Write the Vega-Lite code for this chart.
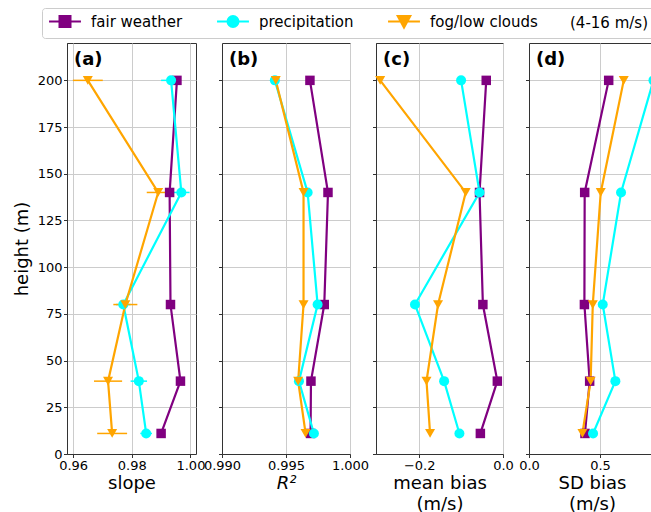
{
  "$schema": "https://vega.github.io/schema/vega-lite/v6.json",
  "padding": {"left": 12, "top": 7, "right": 0, "bottom": 0},
  "bounds": "flush",
  "spacing": 26,
  "data": {
    "values": [
      {"group": "fair weather", "height": 200, "slope": 0.9954, "slope_err": 0.0012, "r2": 0.99687, "mean_bias": -0.040, "sd_bias": 0.561},
      {"group": "fair weather", "height": 140, "slope": 0.9929, "slope_err": 0.0012, "r2": 0.99828, "mean_bias": -0.056, "sd_bias": 0.392},
      {"group": "fair weather", "height": 80, "slope": 0.9932, "slope_err": 0.0012, "r2": 0.99799, "mean_bias": -0.048, "sd_bias": 0.390},
      {"group": "fair weather", "height": 39, "slope": 0.9966, "slope_err": 0.0012, "r2": 0.99695, "mean_bias": -0.0135, "sd_bias": 0.427},
      {"group": "fair weather", "height": 11, "slope": 0.9900, "slope_err": 0.0012, "r2": 0.99692, "mean_bias": -0.054, "sd_bias": 0.394},
      {"group": "precipitation", "height": 200, "slope": 0.9934, "slope_err": 0.0034, "r2": 0.99413, "mean_bias": -0.100, "sd_bias": 0.876},
      {"group": "precipitation", "height": 140, "slope": 0.9969, "slope_err": 0.0028, "r2": 0.99669, "mean_bias": -0.056, "sd_bias": 0.648},
      {"group": "precipitation", "height": 80, "slope": 0.9771, "slope_err": 0.0025, "r2": 0.99747, "mean_bias": -0.210, "sd_bias": 0.519},
      {"group": "precipitation", "height": 39, "slope": 0.9824, "slope_err": 0.0028, "r2": 0.99601, "mean_bias": -0.1405, "sd_bias": 0.608},
      {"group": "precipitation", "height": 11, "slope": 0.9849, "slope_err": 0.0020, "r2": 0.99718, "mean_bias": -0.104, "sd_bias": 0.451},
      {"group": "fog/low clouds", "height": 200, "slope": 0.9650, "slope_err": 0.0051, "r2": 0.99420, "mean_bias": -0.293, "sd_bias": 0.667},
      {"group": "fog/low clouds", "height": 140, "slope": 0.9890, "slope_err": 0.0039, "r2": 0.99637, "mean_bias": -0.089, "sd_bias": 0.505},
      {"group": "fog/low clouds", "height": 80, "slope": 0.9778, "slope_err": 0.0041, "r2": 0.99637, "mean_bias": -0.155, "sd_bias": 0.449},
      {"group": "fog/low clouds", "height": 39, "slope": 0.9719, "slope_err": 0.0048, "r2": 0.99595, "mean_bias": -0.1825, "sd_bias": 0.434},
      {"group": "fog/low clouds", "height": 11, "slope": 0.9733, "slope_err": 0.0051, "r2": 0.99653, "mean_bias": -0.174, "sd_bias": 0.376}
    ]
  },
  "hconcat": [
    {
      "width": 129, "height": 411,
      "title": {"text": "(a)", "anchor": "start", "frame": "group", "offset": 0, "dy": 40, "dx": 7, "baseline": "alphabetic", "fontSize": 18, "fontWeight": "bold"},
      "encoding": {
        "y": {"field": "height", "type": "quantitative", "scale": {"domain": [0, 220], "nice": false, "zero": false},
              "axis": {"values": [0, 25, 50, 75, 100, 125, 150, 175, 200], "title": "height (m)", "titlePadding": 6}},
        "x": {"field": "slope", "type": "quantitative", "scale": {"domain": [0.9579, 1.0019], "nice": false, "zero": false},
              "axis": {"values": [0.96, 0.98, 1.0], "format": ".2f", "title": "slope"}}
      },
      "layer": [
        {"mark": {"type": "point", "filled": true, "opacity": 0},
         "encoding": {
           "shape": {"field": "group", "type": "nominal", "title": "(4-16 m/s)",
             "scale": {"domain": ["fair weather", "precipitation", "fog/low clouds"],
                       "range": ["M-2.9,0H2.9M-1,-1H1V1H-1Z", "M-2.9,0H2.9M1,0A1,1,0,1,1,-1,0A1,1,0,1,1,1,0Z", "M-2.9,0H2.9M-1.15,-1H1.15L0,1.1Z"]}},
           "fill": {"field": "group", "type": "nominal", "title": "(4-16 m/s)",
             "scale": {"domain": ["fair weather", "precipitation", "fog/low clouds"], "range": ["#800080", "#00ffff", "#ffa500"]}},
           "stroke": {"field": "group", "type": "nominal", "title": "(4-16 m/s)",
             "scale": {"domain": ["fair weather", "precipitation", "fog/low clouds"], "range": ["#800080", "#00ffff", "#ffa500"]}}
         }},
        {"mark": {"type": "errorbar", "thickness": 1.5},
         "encoding": {
           "xError": {"field": "slope_err"},
           "color": {"field": "group", "type": "nominal", "legend": null, "scale": {"domain": ["fog/low clouds", "fair weather", "precipitation"], "range": ["#ffa500", "#800080", "#00ffff"]}}
         }},
        {"mark": {"type": "line", "strokeWidth": 2.2},
         "encoding": {
           "order": {"field": "height", "type": "quantitative"},
           "color": {"field": "group", "type": "nominal", "legend": null}
         }},
        {"transform": [{"filter": "datum.group === 'fair weather'"}],
         "mark": {"type": "point", "filled": true, "opacity": 1, "size": 90, "shape": "square", "color": "#800080"}},
        {"transform": [{"filter": "datum.group === 'precipitation'"}],
         "mark": {"type": "point", "filled": true, "opacity": 1, "size": 100, "shape": "circle", "color": "#00ffff"}},
        {"transform": [{"filter": "datum.group === 'fog/low clouds'"}],
         "mark": {"type": "point", "filled": true, "opacity": 1, "size": 100, "shape": "triangle-down", "color": "#ffa500"}}
      ]
    },
    {
      "width": 128, "height": 411,
      "title": {"text": "(b)", "anchor": "start", "frame": "group", "offset": 0, "dy": 40, "dx": 7, "baseline": "alphabetic", "fontSize": 18, "fontWeight": "bold"},
      "encoding": {
        "y": {"field": "height", "type": "quantitative", "scale": {"domain": [0, 220], "nice": false, "zero": false},
              "axis": {"values": [0, 25, 50, 75, 100, 125, 150, 175, 200], "labels": false, "title": null}},
        "x": {"field": "r2", "type": "quantitative", "scale": {"domain": [0.99, 1.0], "nice": false, "zero": false},
              "axis": {"values": [0.99, 0.995, 1.0], "format": ".3f", "title": "R²", "titleFontStyle": "italic"}}
      },
      "layer": [
        {"mark": {"type": "line", "strokeWidth": 2.2},
         "encoding": {
           "order": {"field": "height", "type": "quantitative"},
           "color": {"field": "group", "type": "nominal", "legend": null}
         }},
        {"transform": [{"filter": "datum.group === 'fair weather'"}],
         "mark": {"type": "point", "filled": true, "opacity": 1, "size": 90, "shape": "square", "color": "#800080"}},
        {"transform": [{"filter": "datum.group === 'precipitation'"}],
         "mark": {"type": "point", "filled": true, "opacity": 1, "size": 100, "shape": "circle", "color": "#00ffff"}},
        {"transform": [{"filter": "datum.group === 'fog/low clouds'"}],
         "mark": {"type": "point", "filled": true, "opacity": 1, "size": 100, "shape": "triangle-down", "color": "#ffa500"}}
      ]
    },
    {
      "width": 127, "height": 411,
      "title": {"text": "(c)", "anchor": "start", "frame": "group", "offset": 0, "dy": 40, "dx": 7, "baseline": "alphabetic", "fontSize": 18, "fontWeight": "bold"},
      "encoding": {
        "y": {"field": "height", "type": "quantitative", "scale": {"domain": [0, 220], "nice": false, "zero": false},
              "axis": {"values": [0, 25, 50, 75, 100, 125, 150, 175, 200], "labels": false, "title": null}},
        "x": {"field": "mean_bias", "type": "quantitative", "scale": {"domain": [-0.303, 0.0], "nice": false, "zero": false},
              "axis": {"values": [-0.2, 0.0], "format": ".1f", "title": ["mean bias", "(m/s)"]}}
      },
      "layer": [
        {"mark": {"type": "line", "strokeWidth": 2.2},
         "encoding": {
           "order": {"field": "height", "type": "quantitative"},
           "color": {"field": "group", "type": "nominal", "legend": null}
         }},
        {"transform": [{"filter": "datum.group === 'fair weather'"}],
         "mark": {"type": "point", "filled": true, "opacity": 1, "size": 90, "shape": "square", "color": "#800080"}},
        {"transform": [{"filter": "datum.group === 'precipitation'"}],
         "mark": {"type": "point", "filled": true, "opacity": 1, "size": 100, "shape": "circle", "color": "#00ffff"}},
        {"transform": [{"filter": "datum.group === 'fog/low clouds'"}],
         "mark": {"type": "point", "filled": true, "opacity": 1, "size": 100, "shape": "triangle-down", "color": "#ffa500"}}
      ]
    },
    {
      "width": 126, "height": 411,
      "title": {"text": "(d)", "anchor": "start", "frame": "group", "offset": 0, "dy": 40, "dx": 7, "baseline": "alphabetic", "fontSize": 18, "fontWeight": "bold"},
      "encoding": {
        "y": {"field": "height", "type": "quantitative", "scale": {"domain": [0, 220], "nice": false, "zero": false},
              "axis": {"values": [0, 25, 50, 75, 100, 125, 150, 175, 200], "labels": false, "title": null}},
        "x": {"field": "sd_bias", "type": "quantitative", "scale": {"domain": [0, 0.887], "nice": false, "zero": false},
              "axis": {"values": [0, 0.5], "format": ".1f", "title": ["SD bias", "(m/s)"]}}
      },
      "layer": [
        {"mark": {"type": "line", "strokeWidth": 2.2},
         "encoding": {
           "order": {"field": "height", "type": "quantitative"},
           "color": {"field": "group", "type": "nominal", "legend": null}
         }},
        {"transform": [{"filter": "datum.group === 'fair weather'"}],
         "mark": {"type": "point", "filled": true, "opacity": 1, "size": 90, "shape": "square", "color": "#800080"}},
        {"transform": [{"filter": "datum.group === 'precipitation'"}],
         "mark": {"type": "point", "filled": true, "opacity": 1, "size": 100, "shape": "circle", "color": "#00ffff"}},
        {"transform": [{"filter": "datum.group === 'fog/low clouds'"}],
         "mark": {"type": "point", "filled": true, "opacity": 1, "size": 100, "shape": "triangle-down", "color": "#ffa500"}}
      ]
    }
  ],
  "config": {
    "font": "DejaVu Sans",
    "view": {"stroke": "#333333", "strokeWidth": 1},
    "title": {"color": "#000000"},
    "axis": {
      "domainColor": "#333333", "tickColor": "#333333", "labelColor": "#000000", "titleColor": "#000000",
      "labelFontSize": 13, "titleFontSize": 18, "titleFontWeight": "normal",
      "gridColor": "#cccccc", "gridWidth": 1, "tickSize": 3.5, "labelPadding": 1.5, "labelFlush": false, "labelOverlap": false,
      "titlePadding": 2, "titleLineHeight": 21
    },
    "legend": {
      "orient": "none", "legendX": -25, "legendY": -35,
      "direction": "horizontal", "gridAlign": "none",
      "titleOrient": "right", "titleFontWeight": "normal", "titleFontSize": 15, "titleColor": "#000000", "titlePadding": 32,
      "labelFontSize": 15, "labelColor": "#000000",
      "symbolSize": 121, "symbolStrokeWidth": 2, "symbolOpacity": 1,
      "symbolOffset": 9.5, "labelOffset": 18.5, "columnPadding": 30,
      "strokeColor": "#cccccc", "cornerRadius": 3, "padding": 6, "fillColor": "#ffffff"
    }
  }
}
